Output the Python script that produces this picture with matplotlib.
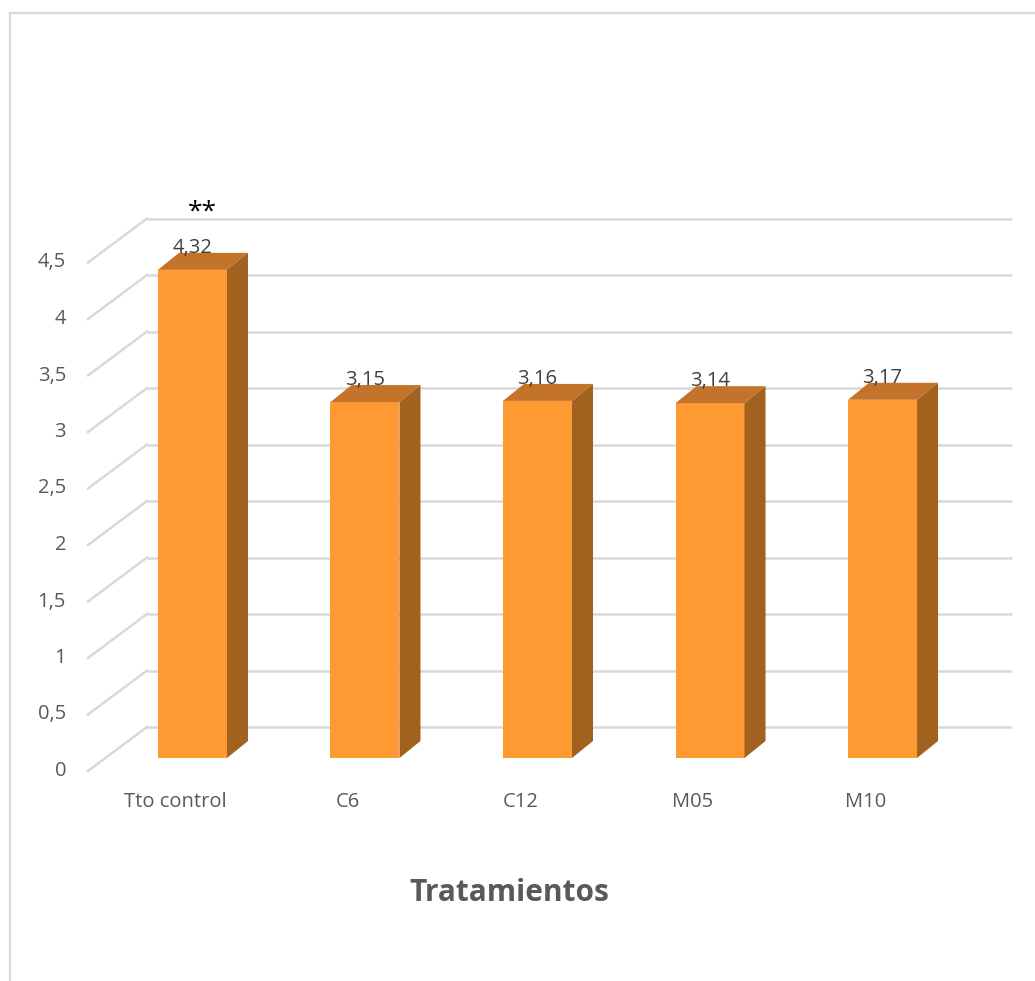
import matplotlib
matplotlib.use('Agg')
import matplotlib.pyplot as plt
from matplotlib.patches import Polygon
from matplotlib.lines import Line2D

# datos
categorias = ['Tto control', 'C6', 'C12', 'M05', 'M10']
valores = [4.32, 3.15, 3.16, 3.14, 3.17]
etiquetas = ['4,32', '3,15', '3,16', '3,14', '3,17']
marcas = ['**', '', '', '', '']
ticks_y = [0, 0.5, 1, 1.5, 2, 2.5, 3, 3.5, 4, 4.5]
ticks_txt = ['0', '0,5', '1', '1,5', '2', '2,5', '3', '3,5', '4', '4,5']

plt.rcParams['font.family'] = ['Open Sans', 'DejaVu Sans']

W, H = 1035, 981
fig = plt.figure(figsize=(W / 100, H / 100), dpi=100)
ax = fig.add_axes([105 / W, (H - 758) / H, 865 / W, 508.5 / H])
ax.set_xlim(-0.507, 4.507)
ax.set_ylim(0, 4.5)
ax.axis('off')

x0, x1 = ax.get_xlim()
px = 865 / (x1 - x0)
py = 508.5 / 4.5


def off(dx, dy):
    # desplazamiento en pixeles -> unidades de datos
    return dx / px, dy / py


bx, by = off(42, 31)     # pared del fondo
fx, fy = off(-17, -13)   # borde frontal del suelo
dx, dy = off(21, 17)     # profundidad de la barra

grid_c = '#D9D9D9'
txt_c = '#595959'

for t, s in zip(ticks_y, ticks_txt):
    ax.plot([x0 + bx, x1 + bx], [t + by, t + by], color=grid_c, lw=1.8,
            clip_on=False, zorder=1, solid_capstyle='butt')
    ax.plot([x0 + fx, x0 + bx], [t + fy, t + by], color=grid_c, lw=1.8,
            clip_on=False, zorder=1)
    ax.text(x0 + fx - 22 / px, t + fy, s, ha='right', va='center',
            fontsize=14.5, color=txt_c)

ancho = 0.4
for i, v in enumerate(valores):
    l, r = i - ancho / 2, i + ancho / 2
    ax.bar(i, v, width=ancho, color='#FF9A33', zorder=3, clip_on=False)
    top = Polygon([(l, v), (r, v), (r + dx, v + dy), (l + dx, v + dy)],
                  closed=True, facecolor='#C4742A', edgecolor='none',
                  zorder=3, clip_on=False)
    side = Polygon([(r, 0), (r + dx, dy), (r + dx, v + dy), (r, v)],
                   closed=True, facecolor='#A1611F', edgecolor='none',
                   zorder=3, clip_on=False)
    ax.add_patch(top)
    ax.add_patch(side)
    ax.text(i, v + dy, etiquetas[i], ha='center', va='baseline',
            fontsize=14.5, color='#404040', zorder=4)
    if marcas[i]:
        ax.text(i + 10 / px, v + dy + 34 / py, marcas[i], ha='center',
                va='baseline', fontsize=19, color='black', zorder=4)
    ax.text(i + fx, -44 / py, categorias[i], ha='center', va='center',
            fontsize=14.5, color=txt_c)

fig.text(509 / W, 1 - 893 / H, 'Tratamientos', ha='center', va='center',
         fontsize=21.5, fontweight='bold', color=txt_c)

# borde del grafico
fig.add_artist(Line2D([9.5 / W, 9.5 / W], [0, 1 - 13 / H], color=grid_c, lw=1.6))
fig.add_artist(Line2D([9.5 / W, 1], [1 - 13 / H, 1 - 13 / H], color=grid_c, lw=1.6))

fig.savefig('out.png', dpi=100)
